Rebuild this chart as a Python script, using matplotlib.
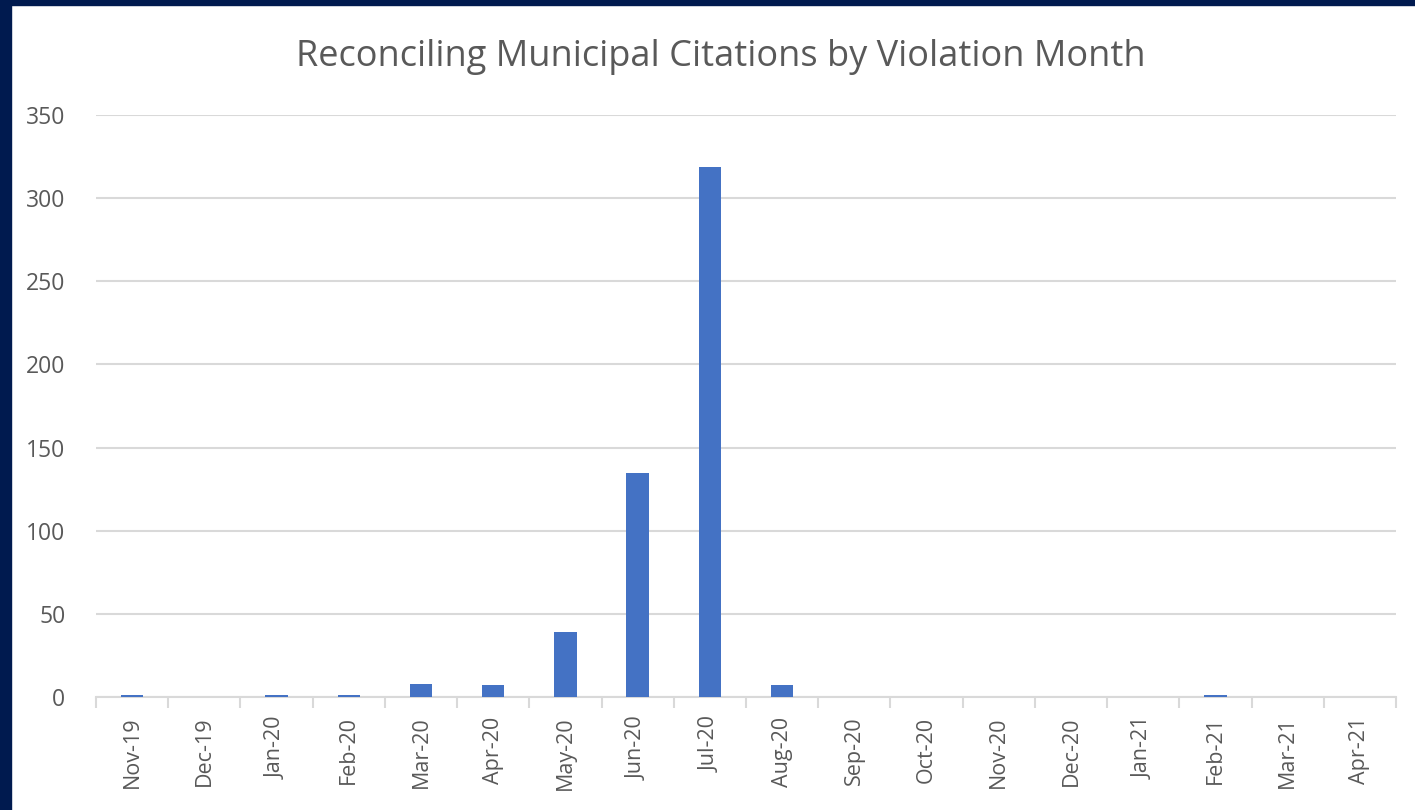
import matplotlib.pyplot as plt
import matplotlib.patches as mpatches
import numpy as np

plt.rcParams["font.family"] = ["Open Sans", "DejaVu Sans"]

# 数据
months = ["Nov-19", "Dec-19", "Jan-20", "Feb-20", "Mar-20", "Apr-20", "May-20",
          "Jun-20", "Jul-20", "Aug-20", "Sep-20", "Oct-20", "Nov-20", "Dec-20",
          "Jan-21", "Feb-21", "Mar-21", "Apr-21"]
citations = [1, 0, 1, 1, 8, 7, 39, 135, 319, 7, 0, 0, 0, 0, 0, 1, 0, 0]

text_color = "#595959"
grid_color = "#D9D9D9"

fig = plt.figure(figsize=(14.15, 8.1), dpi=100)
ax = fig.add_axes([96 / 1415, 1 - 697 / 810, 1300 / 1415, 582 / 810])

x = np.arange(len(months))
ax.bar(x, citations, width=0.31, color="#4472C4", zorder=3)

ax.set_xlim(-0.5, len(months) - 0.5)
ax.set_ylim(0, 350)
ax.set_yticks(range(0, 351, 50))
ax.grid(axis="y", color=grid_color, linewidth=1.5, zorder=0)

# x轴刻度在类别边界
ax.set_xticks(x)
ax.set_xticklabels(months, rotation=90, color=text_color, fontsize=15.5)
ax.set_xticks(np.arange(-0.5, len(months), 1), minor=True)
ax.tick_params(axis="x", which="major", length=0, pad=14)
ax.tick_params(axis="x", which="minor", length=8, width=1.5, color=grid_color)
ax.tick_params(axis="y", length=0, pad=22, labelsize=16.5, labelcolor=text_color)

for side in ["top", "right", "left"]:
    ax.spines[side].set_visible(False)
ax.spines["bottom"].set_color(grid_color)
ax.spines["bottom"].set_linewidth(1.5)

fig.text(721 / 1415, 1 - 57 / 810, "Reconciling Municipal Citations by Violation Month",
         ha="center", va="center", fontsize=26, color=text_color)

# 深蓝色边框
fig.patches.append(mpatches.Rectangle((0, 0), 11 / 1415, 1, transform=fig.transFigure,
                                      color="#001A4F", zorder=10))
fig.patches.append(mpatches.Rectangle((0, 1 - 5 / 810), 1, 5 / 810, transform=fig.transFigure,
                                      color="#001A4F", zorder=10))

fig.savefig("out.png", dpi=100)
